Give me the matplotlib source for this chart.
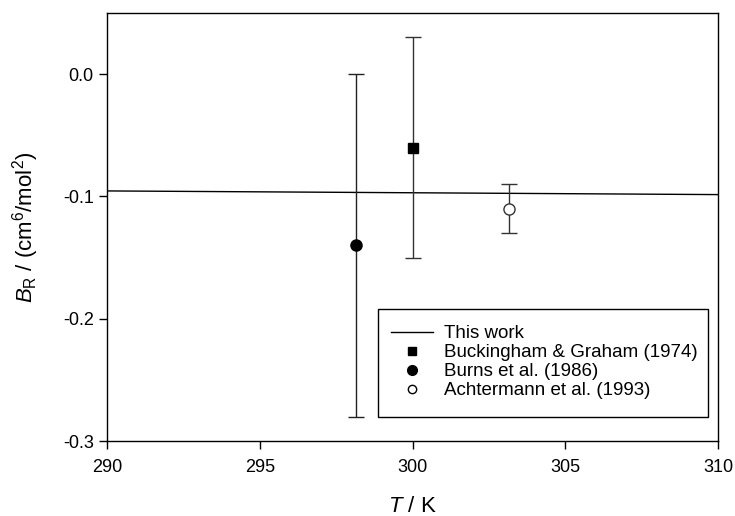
import matplotlib
matplotlib.use('Agg')
from matplotlib import pyplot as plt
from matplotlib.lines import Line2D
from matplotlib.patches import Rectangle

plt.rcParams['font.family'] = ['Liberation Sans', 'DejaVu Sans']
plt.rcParams['mathtext.fontset'] = 'custom'
plt.rcParams['mathtext.rm'] = 'Liberation Sans'
plt.rcParams['mathtext.it'] = 'Liberation Sans:italic'

# this work (correlation line)
T_line = [290, 310]
B_line = [-0.0955, -0.0985]

# Buckingham & Graham (1974)
T_bg = [300.0]
B_bg = [-0.06]
err_bg = [0.09]

# Burns et al. (1986)
T_burns = [298.15]
B_burns = [-0.14]
err_burns = [0.14]

# Achtermann et al. (1993)
T_ach = [303.15]
B_ach = [-0.11]
err_ach = [0.02]

fig = plt.figure(figsize=(7.35, 5.16), dpi=100)
ax = fig.add_axes([107 / 735, 1 - 441 / 516, (718 - 107) / 735, (441 - 13) / 516])

ax.plot(T_line, B_line, color='black', linewidth=1, label='This work')
ax.errorbar(T_bg, B_bg, yerr=err_bg, fmt='s', color='black', ecolor='#333333',
            markersize=7, capsize=6, elinewidth=1, capthick=1,
            label='Buckingham & Graham (1974)')
ax.errorbar(T_burns, B_burns, yerr=err_burns, fmt='o', color='black', ecolor='#222222',
            markersize=8, capsize=6, elinewidth=1, capthick=1,
            label='Burns et al. (1986)')
ax.errorbar(T_ach, B_ach, yerr=err_ach, fmt='o', color='#333333', mfc='white',
            ecolor='#333333', markersize=8, capsize=6, elinewidth=1, capthick=1,
            label='Achtermann et al. (1993)')

ax.set_xlim(290, 310)
ax.set_ylim(-0.3, 0.05)
ax.set_xticks([290, 295, 300, 305, 310])
ax.set_yticks([-0.3, -0.2, -0.1, 0.0])
ax.set_yticklabels(['-0.3', '-0.2', '-0.1', '0.0'])
ax.tick_params(direction='out', length=6, width=1, labelsize=13, top=False, right=False)
ax.tick_params(axis='x', pad=7)
for s in ax.spines.values():
    s.set_linewidth(1)

ax.set_xlabel(r'$T$ / K', fontsize=16, labelpad=14)
ax.set_ylabel(r'$B_\mathrm{R}$ / (cm$^6$/mol$^2$)', fontsize=16, labelpad=16)

# legend box drawn separately (extra space at bottom, like the original)
bx0, bx1 = (378 - 107) / 611, (708 - 107) / 611
by0, by1 = (441 - 417) / 428, (441 - 309) / 428
ax.add_patch(Rectangle((bx0, by0), bx1 - bx0, by1 - by0, transform=ax.transAxes,
                       facecolor='white', edgecolor='black', linewidth=1, zorder=4))

handles, labels = ax.get_legend_handles_labels()
h2 = [handles[0],
      Line2D([], [], ls='none', marker='s', color='black', markersize=6),
      Line2D([], [], ls='none', marker='o', color='black', markersize=7),
      Line2D([], [], ls='none', marker='o', color='black', mfc='white', markersize=6)]
leg = ax.legend(h2, labels, loc='upper left', bbox_to_anchor=(bx0, (441 - 312) / 428),
                fontsize=13.5, frameon=False, borderaxespad=0,
                handlelength=2.25, labelspacing=0.1, borderpad=0.7, handletextpad=0.55)
leg.set_zorder(5)

plt.savefig('out.png', dpi=100)
